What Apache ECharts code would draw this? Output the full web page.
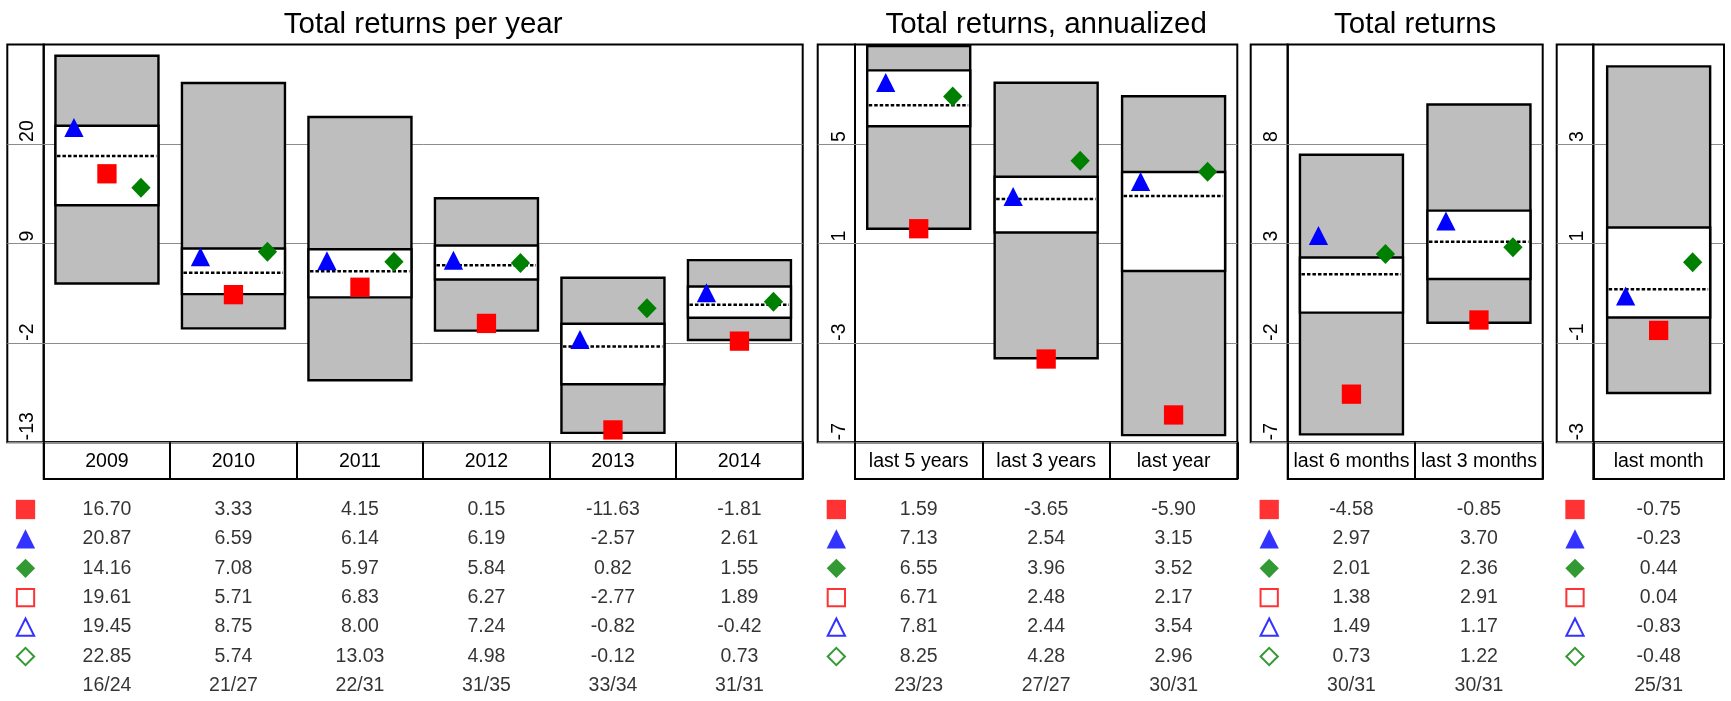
<!DOCTYPE html>
<html>
<head>
<meta charset="utf-8">
<script src="https://cdn.jsdelivr.net/npm/echarts@6/dist/echarts.min.js"></script>
<style>
html, body { margin: 0; padding: 0; background: #fff; }
#chart { width: 1731px; height: 701px; }
</style>
</head>
<body>
<div id="chart"></div>
<script>
var categories = ['2009', '2010', '2011', '2012', '2013', '2014',
    'last 5 years', 'last 3 years', 'last year',
    'last 6 months', 'last 3 months', 'last month'];
var panelSizes = [6, 3, 2, 1];
var panelTitles = ['Total returns per year', 'Total returns, annualized', 'Total returns', ''];

// y axes, one per panel
var axisMin = [-13, -7, -7, -3];
var axisMax = [31, 9, 13, 5];
var axisTicks = [[-13, -2, 9, 20], [-7, -3, 1, 5], [-7, -2, 3, 8], [-3, -1, 1, 3]];

// markers (filled) and the other rows of the table
var fundRet   = [16.70, 3.33, 4.15, 0.15, -11.63, -1.81, 1.59, -3.65, -5.90, -4.58, -0.85, -0.75];
var benchRet  = [20.87, 6.59, 6.14, 6.19, -2.57, 2.61, 7.13, 2.54, 3.15, 2.97, 3.70, -0.23];
var sectorRet = [14.16, 7.08, 5.97, 5.84, 0.82, 1.55, 6.55, 3.96, 3.52, 2.01, 2.36, 0.44];
var fundOpen   = [19.61, 5.71, 6.83, 6.27, -2.77, 1.89, 6.71, 2.48, 2.17, 1.38, 2.91, 0.04];
var benchOpen  = [19.45, 8.75, 8.00, 7.24, -0.82, -0.42, 7.81, 2.44, 3.54, 1.49, 1.17, -0.83];
var sectorOpen = [22.85, 5.74, 13.03, 4.98, -0.12, 0.73, 8.25, 4.28, 2.96, 0.73, 1.22, -0.48];
var ranks = ['16/24', '21/27', '22/31', '31/35', '33/34', '31/31', '23/23', '27/27', '30/31', '30/31', '30/31', '25/31'];

// peer group boxes
var boxLow  = [4.57, -0.40, -6.14, -0.65, -11.96, -1.69, 1.59, -3.62, -6.71, -6.60, -0.99, -2.01];
var boxQ1   = [13.22, 3.39, 3.03, 5.01, -6.58, 0.78, 5.71, 1.44, -0.11, -0.48, 1.21, -0.49];
var boxMed  = [18.67, 5.75, 5.93, 6.59, -2.39, 2.22, 6.56, 2.79, 2.91, 1.45, 3.08, 0.08];
var boxQ3   = [22.02, 8.44, 8.36, 8.77, 0.12, 4.24, 7.96, 3.68, 3.87, 2.29, 4.65, 1.32];
var boxHigh = [29.75, 26.74, 22.98, 13.99, 5.20, 7.15, 8.94, 7.46, 6.92, 7.46, 9.98, 4.56];

var FONT = "'Liberation Sans', Arial, sans-serif";
var RED = '#ff0000', BLUE = '#0000ff', GREEN = '#008000';

// layout: [outer left, plot left, plot right] per panel
var panelX = [[7.3, 43.7, 802.7], [817.7, 855, 1237.3], [1250.7, 1287.7, 1542.7], [1556.7, 1593.3, 1724]];
var plotTop = 44.5, plotBottom = 442.3, rowBottom = 479;
var tableTop = 494.8, rowH = 29.4;

var legendRows = [
    {symbol: 'rect', color: RED, filled: true},
    {symbol: 'triangle', color: BLUE, filled: true},
    {symbol: 'diamond', color: GREEN, filled: true},
    {symbol: 'rect', color: RED, filled: false},
    {symbol: 'triangle', color: BLUE, filled: false},
    {symbol: 'diamond', color: GREEN, filled: false}
];

var grids = [], xAxes = [], yAxes = [], series = [], titles = [];

function addGrid(g, xa, ya) {
    var idx = grids.length;
    grids.push(g);
    xa.gridIndex = idx; ya.gridIndex = idx;
    xAxes.push(xa); yAxes.push(ya);
    return idx;
}

function hiddenAxis(type, data, inverse) {
    var a = {type: type, show: false};
    if (data) a.data = data;
    if (inverse) a.inverse = true;
    return a;
}

var start = 0;
panelSizes.forEach(function (n, p) {
    var cats = categories.slice(start, start + n);
    var ox = panelX[p][0], lx = panelX[p][1], rx = panelX[p][2];
    var ticks = axisTicks[p];

    if (panelTitles[p]) {
        titles.push({
            text: panelTitles[p], left: (lx + rx) / 2, top: 10, textAlign: 'center', padding: 0,
            textStyle: {fontSize: 29.5, fontWeight: 'normal', fontFamily: FONT, color: '#000'}
        });
    }

    // plot area
    var gPlot = addGrid(
        {left: lx, top: plotTop, width: rx - lx, height: plotBottom - plotTop,
         show: true, borderColor: '#000', borderWidth: 2, backgroundColor: 'transparent'},
        {type: 'category', data: cats, axisLine: {show: false}, axisTick: {show: false},
         axisLabel: {show: false}, splitLine: {show: false}},
        {type: 'value', min: axisMin[p], max: axisMax[p],
         axisLine: {show: false},
         axisTick: {show: false, customValues: ticks},
         axisLabel: {customValues: ticks, rotate: 90, margin: 15.7, align: 'left', verticalAlign: 'middle',
                     padding: [0, 0, 0, 2], fontSize: 19.5, fontFamily: FONT, color: '#000'},
         splitLine: {show: true, lineStyle: {color: '#8c8c8c', width: 1}}}
    );

    // label column on the left of the plot (only grid lines and frame)
    addGrid(
        {left: ox, top: plotTop, width: lx - ox, height: plotBottom - plotTop,
         show: true, borderColor: '#000', borderWidth: 2},
        hiddenAxis('value'),
        {type: 'value', min: axisMin[p], max: axisMax[p],
         axisLine: {show: false}, axisLabel: {show: false},
         axisTick: {show: false, customValues: ticks},
         splitLine: {show: true, lineStyle: {color: '#8c8c8c', width: 1}}}
    );

    // category row under the plot
    addGrid(
        {left: lx, top: plotBottom, width: rx - lx, height: rowBottom - plotBottom,
         show: true, borderColor: '#000', borderWidth: 2},
        {type: 'category', data: cats, position: 'top',
         axisLine: {show: false}, axisTick: {show: false},
         axisLabel: {interval: 0, inside: true, margin: 19.5, verticalAlign: 'middle',
                     fontSize: 19.5, fontFamily: FONT, color: '#000'},
         splitLine: {show: true, interval: 0, lineStyle: {color: '#000', width: 2}}},
        hiddenAxis('value')
    );

    // table of values
    var rowNames = ['0', '1', '2', '3', '4', '5', '6'];
    var gTable = addGrid(
        {left: lx, top: tableTop, width: rx - lx, height: rowH * 7},
        hiddenAxis('category', cats), hiddenAxis('category', rowNames, true)
    );
    var rows = [fundRet, benchRet, sectorRet, fundOpen, benchOpen, sectorOpen];
    var cells = [];
    for (var i = 0; i < n; i++) {
        rows.forEach(function (arr, r) {
            cells.push({name: arr[start + i].toFixed(2), value: [i, r]});
        });
        cells.push({name: ranks[start + i], value: [i, 6]});
    }
    series.push({
        type: 'scatter', xAxisIndex: gTable, yAxisIndex: gTable, silent: true,
        symbol: 'rect', symbolSize: 1, itemStyle: {color: 'rgba(0,0,0,0)'},
        label: {show: true, position: 'inside', formatter: function (q) { return q.name; },
                fontSize: 19.5, fontFamily: FONT, color: '#000'},
        data: cells
    });

    // legend symbols beside the table
    var gLeg = addGrid(
        {left: ox, top: tableTop, width: lx - ox, height: rowH * 7},
        hiddenAxis('category', ['m']), hiddenAxis('category', rowNames, true)
    );
    series.push({
        type: 'scatter', xAxisIndex: gLeg, yAxisIndex: gLeg, silent: true,
        data: legendRows.map(function (s, r) {
            return {
                value: [0, r], symbol: s.symbol,
                symbolSize: s.filled ? 19.3 : 17.3,
                itemStyle: s.filled ? {color: s.color}
                                    : {color: '#fff', borderColor: s.color, borderWidth: 2}
            };
        })
    });

    // boxes
    var boxData = [];
    for (var j = 0; j < n; j++) {
        boxData.push([j, boxLow[start + j], boxQ1[start + j], boxMed[start + j], boxQ3[start + j], boxHigh[start + j]]);
    }
    series.push({
        type: 'custom', xAxisIndex: gPlot, yAxisIndex: gPlot, silent: true, z: 2,
        encode: {x: 0, y: [1, 2, 3, 4, 5]},
        data: boxData,
        renderItem: function (params, api) {
            var c = api.value(0);
            var x = api.coord([c, 0])[0];
            var yLow = api.coord([c, api.value(1)])[1];
            var yQ1 = api.coord([c, api.value(2)])[1];
            var yMed = api.coord([c, api.value(3)])[1];
            var yQ3 = api.coord([c, api.value(4)])[1];
            var yHigh = api.coord([c, api.value(5)])[1];
            var h = 51.5;
            return {
                type: 'group',
                children: [
                    {type: 'rect', shape: {x: x - h, y: yHigh, width: 2 * h, height: yLow - yHigh},
                     style: {fill: '#bebebe', stroke: '#000', lineWidth: 2.4}},
                    {type: 'rect', shape: {x: x - h, y: yQ3, width: 2 * h, height: yQ1 - yQ3},
                     style: {fill: '#fff', stroke: '#000', lineWidth: 2.4}},
                    {type: 'line', shape: {x1: x - h + 1.5, y1: yMed, x2: x + h - 2, y2: yMed},
                     style: {stroke: '#000', lineWidth: 2.5, lineDash: [3.5, 2]}}
                ]
            };
        }
    });

    function markers(arr, symbol, size, offset, color) {
        var d = [];
        for (var k = 0; k < n; k++) d.push([k, arr[start + k]]);
        series.push({
            type: 'scatter', xAxisIndex: gPlot, yAxisIndex: gPlot, silent: true, z: 3,
            symbol: symbol, symbolSize: size, symbolOffset: offset,
            itemStyle: {color: color, opacity: 1}, data: d
        });
    }
    markers(fundRet, 'rect', 19.3, [0, 0], RED);
    markers(benchRet, 'triangle', [19.3, 19], [-33, -8.5], BLUE);
    markers(sectorRet, 'diamond', [19.3, 20], [34, -9], GREEN);

    start += n;
});

var chart = echarts.init(document.getElementById('chart'), null, {renderer: 'canvas'});
chart.setOption({
    animation: false,
    backgroundColor: '#fff',
    title: titles,
    grid: grids,
    xAxis: xAxes,
    yAxis: yAxes,
    series: series
});
</script>
</body>
</html>
